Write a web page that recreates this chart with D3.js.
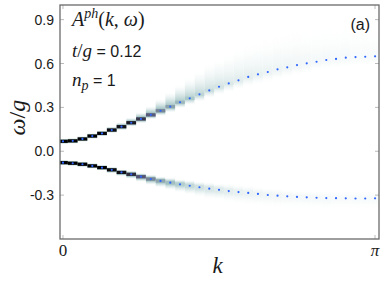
<!DOCTYPE html>
<html>
<head>
<meta charset="utf-8">
<script src="https://cdn.jsdelivr.net/npm/d3@7"></script>
<style>
  body { margin: 0; background: #fff; }
  svg { display: block; }
  .tick-label { font-family: "Liberation Sans", Arial, sans-serif; font-size: 14px; fill: #1a1a1a; }
  .serif { font-family: "Liberation Serif", "DejaVu Serif", serif; fill: #1a1a1a; }
  .it { font-style: italic; }
  .sans { font-family: "Liberation Sans", Arial, sans-serif; fill: #1a1a1a; }
</style>
</head>
<body>
<div id="chart"></div>
<script>
// k grid (0 .. pi)
var kValues = [0, 0.098, 0.196, 0.295, 0.393, 0.491, 0.589, 0.687, 0.785, 0.884, 0.982,
  1.080, 1.178, 1.276, 1.374, 1.473, 1.571, 1.669, 1.767, 1.865, 1.963, 2.062, 2.160,
  2.258, 2.356, 2.454, 2.553, 2.651, 2.749, 2.847, 2.945, 3.043, 3.142];

// peak positions (blue dots), omega/g
var upperOmega = [0.068, 0.071, 0.084, 0.104, 0.122, 0.145, 0.168, 0.195, 0.221, 0.249, 0.277,
  0.305, 0.335, 0.362, 0.389, 0.416, 0.441, 0.464, 0.485, 0.508, 0.526, 0.542, 0.560,
  0.574, 0.589, 0.601, 0.612, 0.624, 0.631, 0.640, 0.644, 0.646, 0.649];
var lowerOmega = [-0.078, -0.082, -0.089, -0.100, -0.112, -0.127, -0.145, -0.158, -0.174, -0.190, -0.203,
  -0.215, -0.226, -0.236, -0.246, -0.256, -0.264, -0.272, -0.279, -0.285, -0.292, -0.299, -0.304,
  -0.308, -0.312, -0.315, -0.318, -0.320, -0.321, -0.322, -0.323, -0.323, -0.322];

// spectral weight (0 = white, 1 = black)
var upperCore = [1, 1, 1, 1, 0.97, 0.95, 0.92, 0.88, 0.76, 0.6, 0.47, 0.37, 0.3, 0.24, 0.19, 0.15,
  0.12, 0.1, 0.08, 0.07, 0.06, 0.05, 0.045, 0.04, 0.035, 0.03, 0.03, 0.025, 0.025, 0.02, 0.02, 0.02, 0.02];
var upperHalo = [0.25, 0.25, 0.25, 0.25, 0.28, 0.3, 0.3, 0.32, 0.32, 0.3, 0.28, 0.25, 0.22, 0.19, 0.16, 0.13,
  0.11, 0.09, 0.08, 0.07, 0.06, 0.055, 0.05, 0.045, 0.04, 0.035, 0.03, 0.03, 0.025, 0.025, 0.02, 0.02, 0.02];
var upperUp = [0.02, 0.02, 0.02, 0.02, 0.02, 0.025, 0.03, 0.035, 0.045, 0.06, 0.08, 0.1, 0.12, 0.14, 0.16, 0.18,
  0.19, 0.2, 0.21, 0.22, 0.22, 0.23, 0.23, 0.23, 0.23, 0.23, 0.23, 0.23, 0.22, 0.22, 0.22, 0.22, 0.22];
var upperDown = [0.02, 0.02, 0.02, 0.02, 0.02, 0.02, 0.025, 0.025, 0.03, 0.03, 0.035, 0.04, 0.04, 0.045, 0.05, 0.05,
  0.055, 0.06, 0.06, 0.065, 0.07, 0.07, 0.07, 0.07, 0.07, 0.07, 0.07, 0.07, 0.07, 0.07, 0.07, 0.07, 0.07];

var lowerCore = [1, 1, 1, 1, 1, 0.97, 0.93, 0.8, 0.62, 0.46, 0.36, 0.28, 0.22, 0.17, 0.13, 0.1,
  0.085, 0.07, 0.06, 0.05, 0.045, 0.04, 0.035, 0.03, 0.03, 0.025, 0.025, 0.02, 0.02, 0.02, 0.02, 0.02, 0.02];
var lowerHalo = [0.25, 0.25, 0.25, 0.25, 0.27, 0.28, 0.3, 0.32, 0.32, 0.3, 0.27, 0.24, 0.2, 0.17, 0.14, 0.12,
  0.1, 0.085, 0.07, 0.06, 0.05, 0.045, 0.04, 0.035, 0.03, 0.03, 0.025, 0.025, 0.02, 0.02, 0.02, 0.02, 0.02];
var lowerUp = [0.02, 0.02, 0.02, 0.02, 0.02, 0.02, 0.02, 0.025, 0.025, 0.03, 0.03, 0.035, 0.035, 0.04, 0.04, 0.045,
  0.045, 0.05, 0.05, 0.05, 0.05, 0.05, 0.05, 0.05, 0.05, 0.05, 0.05, 0.05, 0.05, 0.05, 0.05, 0.05, 0.05];
var lowerDown = [0.02, 0.02, 0.02, 0.02, 0.02, 0.025, 0.025, 0.03, 0.035, 0.04, 0.045, 0.05, 0.055, 0.06, 0.065, 0.07,
  0.07, 0.075, 0.08, 0.08, 0.08, 0.08, 0.08, 0.08, 0.08, 0.08, 0.08, 0.08, 0.08, 0.08, 0.08, 0.08, 0.08];

var yTicks = [-0.3, 0, 0.3, 0.6, 0.9];
var yTickLabels = ["-0.3", "0.0", "0.3", "0.6", "0.9"];
var xTicks = [0, Math.PI];
var xTickLabels = ["0", "\u03c0"];

// dimensions
var margin = {top: 5, right: 3, bottom: 48, left: 60},
    width = 382 - margin.left - margin.right,
    height = 287 - margin.top - margin.bottom;

var svgRoot = d3.select("#chart").append("svg")
    .attr("width", 382).attr("height", 287);
var defs = svgRoot.append("defs");
var svg = svgRoot.append("g")
    .attr("transform", "translate(" + margin.left + "," + margin.top + ")");

var xScale = d3.scaleLinear().domain([-0.03, Math.PI + 0.04]).range([0, width]);
var yScale = d3.scaleLinear().domain([-0.6, 1.0]).range([height, 0]);

// bone_r colormap (matplotlib segment data)
var boneG = d3.scaleLinear().domain([0, 0.365079, 0.746032, 1]).range([0, 0.319444, 0.777778, 1]);
var boneRed = d3.scaleLinear().domain([0, 0.746032, 1]).range([0, 0.652778, 1]);
var boneBlue = d3.scaleLinear().domain([0, 0.365079, 1]).range([0, 0.444444, 1]);
function color(v) {
  var u = 1 - Math.max(0, Math.min(1, v));
  return d3.rgb(255 * boneRed(u), 255 * boneG(u), 255 * boneBlue(u)).toString();
}

defs.append("clipPath").attr("id", "plotclip")
  .append("rect").attr("width", width).attr("height", height);

var map = svg.append("g").attr("clip-path", "url(#plotclip)");
var colW = xScale(kValues[1]) - xScale(kValues[0]);
var half = 0.011;

function drawBand(name, omega, core, halo, up, down) {
  kValues.forEach(function(k, i) {
    var c = omega[i], top = c + up[i], bot = c - down[i], span = top - bot;
    var id = name + "-g" + i;
    var g = defs.append("linearGradient").attr("id", id)
      .attr("gradientUnits", "userSpaceOnUse")
      .attr("x1", 0).attr("x2", 0)
      .attr("y1", yScale(top)).attr("y2", yScale(bot));
    var steps = 6, s, t;
    for (s = 0; s <= steps; s++) {
      t = s / steps;
      g.append("stop").attr("offset", (t * (up[i] - half)) / span)
        .attr("stop-color", color(halo[i] * Math.pow(t, 1.6)));
    }
    for (s = steps; s >= 0; s--) {
      t = s / steps;
      g.append("stop").attr("offset", (up[i] + half + (1 - t) * (down[i] - half)) / span)
        .attr("stop-color", color(halo[i] * Math.pow(t, 1.6)));
    }
    map.append("rect")
      .attr("x", xScale(k) - colW / 2).attr("width", colW)
      .attr("y", yScale(top)).attr("height", yScale(bot) - yScale(top))
      .attr("fill", "url(#" + id + ")");
  });
  // peak cells
  map.selectAll("rect." + name + "-core")
    .data(kValues)
    .enter().append("rect")
      .attr("class", name + "-core")
      .attr("x", function(d) { return xScale(d) - colW / 2; })
      .attr("width", colW)
      .attr("y", function(d, i) { return yScale(omega[i] + half); })
      .attr("height", yScale(0) - yScale(2 * half))
      .attr("fill", function(d, i) { return color(core[i]); });
}

drawBand("up", upperOmega, upperCore, upperHalo, upperUp, upperDown);
drawBand("lo", lowerOmega, lowerCore, lowerHalo, lowerUp, lowerDown);

// blue dots
[upperOmega, lowerOmega].forEach(function(series) {
  map.append("g").selectAll("circle")
    .data(kValues)
    .enter().append("circle")
      .attr("cx", function(d) { return xScale(d); })
      .attr("cy", function(d, i) { return yScale(series[i]); })
      .attr("r", 1.1)
      .attr("fill", "#2f66ff");
});

// ticks inside frame
yTicks.forEach(function(v, i) {
  svg.append("line").attr("x1", 0).attr("x2", 4)
    .attr("y1", yScale(v)).attr("y2", yScale(v))
    .attr("stroke", "#bbb").attr("stroke-width", 1);
  svg.append("line").attr("x1", width - 4).attr("x2", width)
    .attr("y1", yScale(v)).attr("y2", yScale(v))
    .attr("stroke", "#bbb").attr("stroke-width", 1);
  svg.append("text").attr("class", "tick-label")
    .attr("x", -6).attr("y", yScale(v) + 5)
    .attr("text-anchor", "end")
    .text(yTickLabels[i]);
});
xTicks.forEach(function(v, i) {
  svg.append("line").attr("x1", xScale(v)).attr("x2", xScale(v))
    .attr("y1", height).attr("y2", height - 4)
    .attr("stroke", "#bbb").attr("stroke-width", 1);
  svg.append("line").attr("x1", xScale(v)).attr("x2", xScale(v))
    .attr("y1", 0).attr("y2", 4)
    .attr("stroke", "#bbb").attr("stroke-width", 1);
  svg.append("text").attr("class", "serif" + (i === 1 ? " it" : ""))
    .attr("x", xScale(v)).attr("y", height + 17)
    .attr("text-anchor", "middle")
    .style("font-size", "17px")
    .text(xTickLabels[i]);
});

// frame
svg.append("rect")
  .attr("width", width).attr("height", height)
  .attr("fill", "none").attr("stroke", "#6a6a6a").attr("stroke-width", 1.3);

// axis labels
svg.append("text").attr("class", "serif it")
  .attr("x", (width) / 2 - 2).attr("y", height + 34)
  .attr("text-anchor", "middle")
  .style("font-size", "23px")
  .text("k");

svg.append("text").attr("class", "serif")
  .attr("transform", "translate(" + (-35) + "," + (yScale(0.23)) + ") rotate(-90)")
  .attr("text-anchor", "middle")
  .style("font-size", "24px")
  .call(function(t) {
    t.append("tspan").attr("class", "it").text("\u03c9");
    t.append("tspan").text("/");
    t.append("tspan").attr("class", "it").text("g");
  });

// annotations
var ann = svg.append("text").attr("class", "serif")
  .attr("x", 12).attr("y", 21)
  .style("font-size", "20px");
ann.append("tspan").attr("class", "it").text("A");
ann.append("tspan").attr("class", "it").attr("dy", -8).style("font-size", "14px").text("ph");
ann.append("tspan").attr("dy", 8).text("(");
ann.append("tspan").attr("class", "it").text("k");
ann.append("tspan").text(", ");
ann.append("tspan").attr("class", "it").text("\u03c9");
ann.append("tspan").text(")");

var tg = svg.append("text").attr("x", 12).attr("y", 52).style("font-size", "19px");
tg.append("tspan").attr("class", "serif it").text("t");
tg.append("tspan").attr("class", "serif").text("/");
tg.append("tspan").attr("class", "serif it").text("g");
tg.append("tspan").attr("class", "sans").style("font-size", "16px").text(" = 0.12");

var np = svg.append("text").attr("x", 12).attr("y", 81).style("font-size", "19px");
np.append("tspan").attr("class", "serif it").text("n");
np.append("tspan").attr("class", "serif it").attr("dy", 4).style("font-size", "14px").text("p");
np.append("tspan").attr("class", "sans").attr("dy", -4).style("font-size", "16px").text(" = 1");

svg.append("text").attr("class", "sans")
  .attr("x", width - 9).attr("y", 25)
  .attr("text-anchor", "end")
  .style("font-size", "16px")
  .text("(a)");
</script>
</body>
</html>
